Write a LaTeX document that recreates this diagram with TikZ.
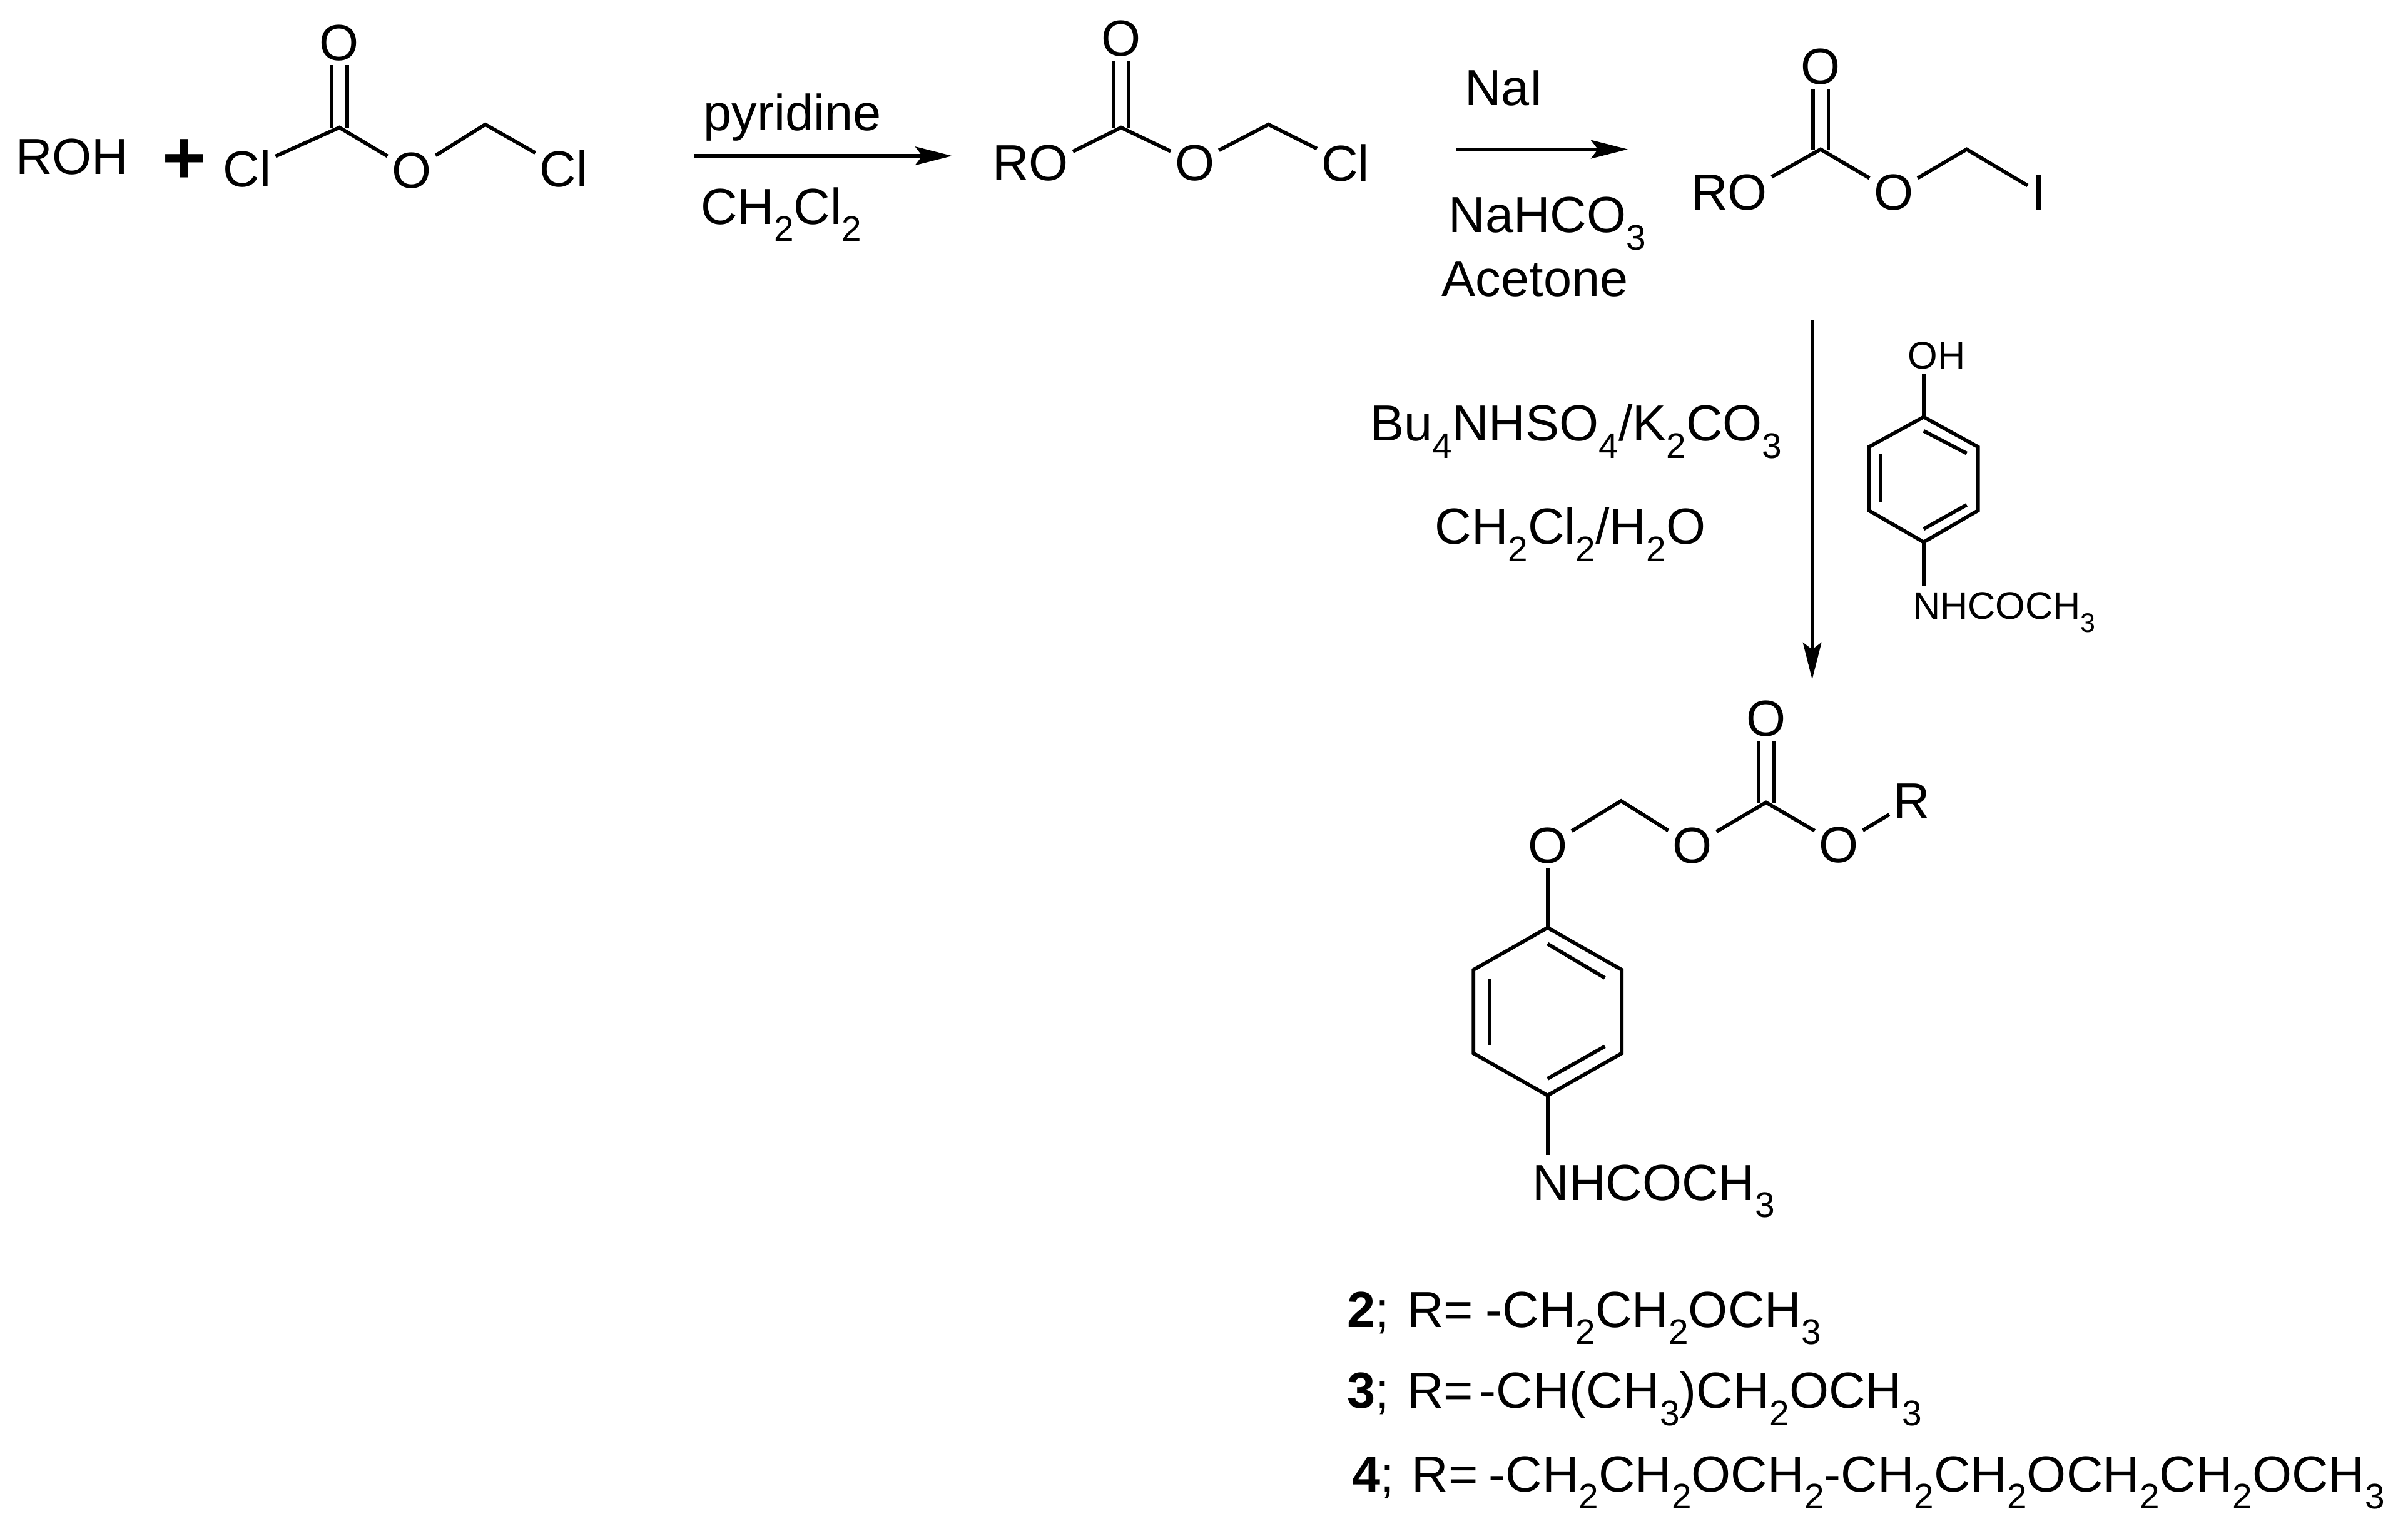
\documentclass[tikz,border=0pt]{standalone}
\usepackage{fontspec}
\usepackage{amsmath}
\usepackage{tikz}
\usetikzlibrary{arrows.meta}
\setmainfont{Liberation Sans}

\newcommand{\lowd}[1]{\raisebox{-0.34em}{\scalebox{0.7}{#1}}}

\tikzset{
    atom/.style={inner sep=0.05cm, font=\fontsize{18.8}{20}\selectfont},
    smallatom/.style={inner sep=0.05cm, font=\fontsize{14.2}{15}\selectfont},
    lbl/.style={inner sep=0pt, font=\fontsize{18.8}{20}\selectfont},
    bond/.style={line width=1.35pt},
    dblbond/.style={line width=1.35pt, double, double distance=4.4pt},
    rxn/.style={line width=1.35pt, -{Stealth[length=0.48cm, width=0.24cm, inset=0.09cm]}}
}

\begin{document}
\begin{tikzpicture}[x=0.02cm, y=-0.02cm]
    \useasboundingbox (0,0) rectangle (1568,990.3);

    \node[atom] (roha) at (47,102) {ROH};
    \node[inner sep=0pt, font=\fontsize{28}{30}\selectfont\bfseries] (plusa) at (120,105) {+};
    \node[atom] (cla) at (161,110) {Cl};
    \node[atom] (oa) at (221,28) {O};
    \node[atom] (ob) at (268,111) {O};
    \node[atom] (clb) at (367,110) {Cl};
    \coordinate (ca) at (221,83);
    \coordinate (cha) at (316,81);
    \draw[dblbond] (ca) -- (oa);
    \draw[bond] (cla) -- (ca) -- (ob);
    \draw[bond] (ob) -- (cha) -- (clb);

    \coordinate (arra) at (452,101.5);
    \coordinate (arrb) at (620,101.5);
    \draw[rxn] (arra) -- (arrb);
    \node[lbl, anchor=base] (pyr) at (516,85) {pyridine};
    \node[lbl, anchor=base west] (dcma) at (456,146) {CH\lowd{2}Cl\lowd{2}};

    \node[atom] (roa) at (671,106) {RO};
    \node[atom] (oc) at (730,25) {O};
    \node[atom] (od) at (778,106) {O};
    \node[atom] (clc) at (876,106) {Cl};
    \coordinate (cb) at (730,83);
    \coordinate (chb) at (826,81);
    \draw[dblbond] (cb) -- (oc);
    \draw[bond] (roa.15) -- (cb) -- (od);
    \draw[bond] (od) -- (chb) -- (clc);

    \coordinate (arrc) at (948.5,97.2);
    \coordinate (arrd) at (1060,97.2);
    \draw[rxn] (arrc) -- (arrd);
    \node[lbl, anchor=base] (nai) at (979.5,68.6) {NaI};
    \node[lbl, anchor=base west] (nahco) at (943,151.5) {NaHCO\lowd{3}};
    \node[lbl, anchor=base] (acet) at (999.5,192.9) {Acetone};

    \node[atom] (rob) at (1126,125.2) {RO};
    \node[atom] (oe) at (1185.5,43.4) {O};
    \node[atom] (of) at (1233,125.2) {O};
    \node[atom] (ia) at (1327.7,125.2) {I};
    \coordinate (cc) at (1185.5,97.2);
    \coordinate (chc) at (1280.6,97.2);
    \draw[dblbond] (cc) -- (oe);
    \draw[bond] (rob.20) -- (cc) -- (of);
    \draw[bond] (of) -- (chc) -- (ia);

    \coordinate (arre) at (1180,208.6);
    \coordinate (arrf) at (1180,442.4);
    \draw[rxn] (arre) -- (arrf);
    \node[lbl, anchor=base west] (bua) at (892,287.2) {Bu\lowd{4}NHSO\lowd{4}/K\lowd{2}CO\lowd{3}};
    \node[lbl, anchor=base west] (dcmb) at (934,354.4) {CH\lowd{2}Cl\lowd{2}/H\lowd{2}O};

    \node[smallatom] (oh) at (1261,231.5) {OH};
    \node[smallatom, anchor=base west, inner xsep=0pt, inner ysep=0.08cm] (nha) at (1245,403) {NHCOCH\lowd{3}};
    \coordinate (ra1) at (1252.6,271.5);
    \coordinate (ra2) at (1288,291);
    \coordinate (ra3) at (1288,332.4);
    \coordinate (ra4) at (1252.6,353);
    \coordinate (ra5) at (1217,332.4);
    \coordinate (ra6) at (1217,291);
    \coordinate (ia1) at (1252.6,280.6);
    \coordinate (ia2) at (1280.6,295.2);
    \coordinate (ia3) at (1224.6,295.2);
    \coordinate (ia4) at (1224.6,327.2);
    \coordinate (ia5) at (1252.6,344.4);
    \coordinate (ia6) at (1280.6,328.7);
    \draw[bond] (ra1) -- (ra2) -- (ra3) -- (ra4) -- (ra5) -- (ra6) -- cycle;
    \draw[bond] (ia1) -- (ia2);
    \draw[bond] (ia3) -- (ia4);
    \draw[bond] (ia5) -- (ia6);
    \draw[bond] (ra1) -- (ra1 |- oh.south);
    \draw[bond] (ra4) -- (ra4 |- nha.north);

    \node[atom] (og) at (1150,468.1) {O};
    \node[atom] (oh2) at (1102,550.6) {O};
    \node[atom] (oi) at (1197.3,550) {O};
    \node[atom] (oj) at (1007.7,550.6) {O};
    \node[atom] (ra) at (1245,521.5) {R};
    \coordinate (cd) at (1150,522.5);
    \coordinate (chd) at (1055.6,521.5);
    \draw[dblbond] (cd) -- (og);
    \draw[bond] (oh2) -- (cd) -- (oi);
    \draw[bond] (oi) -- (ra);
    \draw[bond] (oj) -- (chd) -- (oh2);

    \node[lbl, anchor=base west, inner ysep=0.12cm] (nhb) at (997.6,781.4) {NHCOCH\lowd{3}};
    \coordinate (rb1) at (1007.7,604);
    \coordinate (rb2) at (1056,631.4);
    \coordinate (rb3) at (1056,685.8);
    \coordinate (rb4) at (1007.7,713.2);
    \coordinate (rb5) at (959.5,685.8);
    \coordinate (rb6) at (959.5,631.4);
    \coordinate (ib1) at (1007.7,614.5);
    \coordinate (ib2) at (1045,636.7);
    \coordinate (ib3) at (970,637.7);
    \coordinate (ib4) at (970,680.6);
    \coordinate (ib5) at (1007.7,702.3);
    \coordinate (ib6) at (1045,681.3);
    \draw[bond] (rb1) -- (rb2) -- (rb3) -- (rb4) -- (rb5) -- (rb6) -- cycle;
    \draw[bond] (ib1) -- (ib2);
    \draw[bond] (ib3) -- (ib4);
    \draw[bond] (ib5) -- (ib6);
    \draw[bond] (oj) -- (rb1);
    \draw[bond] (rb4) -- (rb4 |- nhb.north);

    \node[lbl, anchor=base west] (numa) at (877,864.2) {\textbf{2}; };
    \node[lbl, anchor=base west] (ega) at (916,864.2) {R=};
    \node[lbl, anchor=base west] (ra2txt) at (967,864.2) {-CH\lowd{2}CH\lowd{2}OCH\lowd{3}};
    \node[lbl, anchor=base west] (numb) at (877,916.9) {\textbf{3}; };
    \node[lbl, anchor=base west] (egb) at (916,916.9) {R=};
    \node[lbl, anchor=base west] (rb2txt) at (963,916.9) {-CH(CH\lowd{3})CH\lowd{2}OCH\lowd{3}};
    \node[lbl, anchor=base west] (numc) at (880,971.3) {\textbf{4}; };
    \node[lbl, anchor=base west] (egc) at (919,971.3) {R=};
    \node[lbl, anchor=base west] (rc2txt) at (969,971.3) {-CH\lowd{2}CH\lowd{2}OCH\lowd{2}-CH\lowd{2}CH\lowd{2}OCH\lowd{2}CH\lowd{2}OCH\lowd{3}};
\end{tikzpicture}
\end{document}
